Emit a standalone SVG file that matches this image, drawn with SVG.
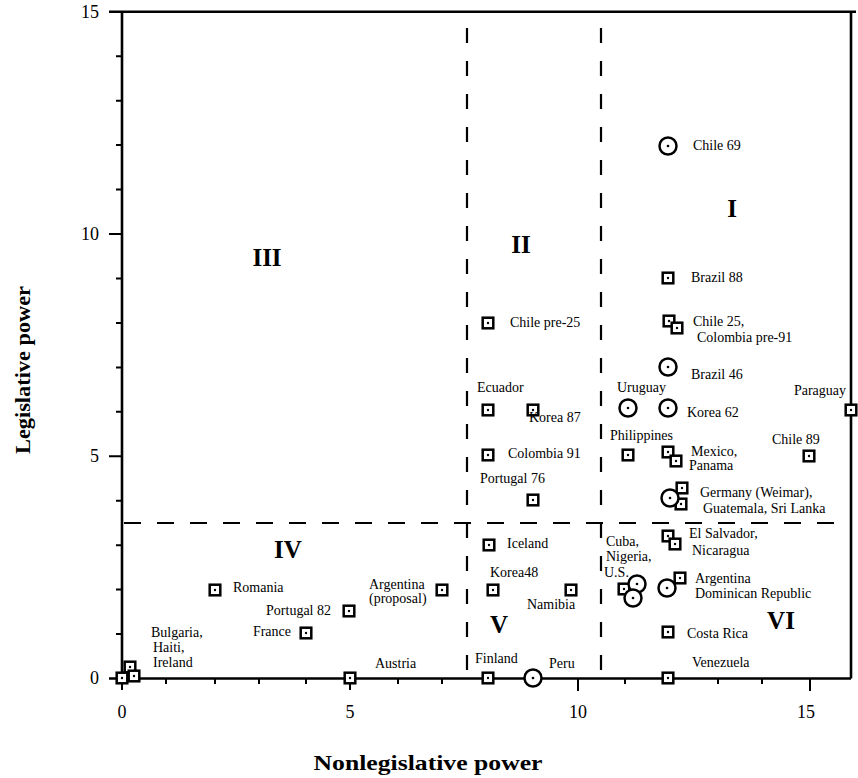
<svg xmlns="http://www.w3.org/2000/svg" xmlns:xlink="http://www.w3.org/1999/xlink" width="858" height="778" viewBox="0 0 858 778">
<style>
text{font-family:"Liberation Serif","Times New Roman",serif;fill:#000}
.lb{font-size:14px}
.tk{font-size:18px}
.rn{font-size:25px;font-weight:bold;text-anchor:middle}
.ax{font-size:22px;font-weight:bold;text-anchor:middle}
.axis{stroke:#000;stroke-width:2.6;fill:none}
.tick{stroke:#000;stroke-width:2;fill:none}
.dash{stroke:#000;stroke-width:2.2;fill:none;stroke-dasharray:15 18}
.hdash{stroke:#000;stroke-width:2.2;fill:none;stroke-dasharray:17 16}
.m{fill:#fff;stroke:#000;stroke-width:2.5}
</style>
<defs>
<g id="sq"><rect class="m" x="-5.3" y="-5.3" width="10.6" height="10.6"/><circle r="1.2" fill="#000"/></g>
<g id="ci"><circle class="m" r="8.5"/><circle r="1.3" fill="#000"/></g>
</defs>
<rect width="858" height="778" fill="#fff"/>
<g id="axes">
<path class="axis" d="M109,11.7 H856 M122,11.7 V678.5 M109,678.5 H851 M851,11.7 V678.5"/>
<path class="tick" d="M116,634 H122 M116,589.6 H122 M116,545.2 H122 M116,500.7 H122 M116,411.8 H122 M116,367.4 H122 M116,322.9 H122 M116,278.5 H122 M116,189.6 H122 M116,145.1 H122 M116,100.7 H122 M116,56.2 H122 M109,456.3 H122 M109,234 H122"/>
<path class="tick" d="M122,678 V690 M350,678 V690 M578,678 V691 M810,678 V691 M166,678 V684 M215,678 V684 M259,678 V684 M306,678 V684 M398,678 V684 M442,678 V684 M489,678 V684 M533,678 V684 M625,678 V684 M670,678 V684 M718,678 V684 M762,678 V684"/>
<text class="tk" x="99" y="18" text-anchor="end">15</text>
<text class="tk" x="99" y="240" text-anchor="end">10</text>
<text class="tk" x="99" y="462" text-anchor="end">5</text>
<text class="tk" x="99" y="684" text-anchor="end">0</text>
<text class="tk" x="122" y="718" text-anchor="middle">0</text>
<text class="tk" x="350" y="718" text-anchor="middle">5</text>
<text class="tk" x="578" y="718" text-anchor="middle">10</text>
<text class="tk" x="806" y="718" text-anchor="middle">15</text>
<text class="ax" x="428" y="770" textLength="229" lengthAdjust="spacingAndGlyphs">Nonlegislative power</text>
<text class="ax" transform="translate(30,370) rotate(-90)" textLength="168" lengthAdjust="spacingAndGlyphs">Legislative power</text>
</g>
<g id="dividers">
<path class="dash" d="M467,28 V678"/>
<path class="dash" d="M601,28 V678"/>
<path class="hdash" d="M124,523 H851"/>
</g>
<g id="regions">
<text class="rn" x="732" y="217">I</text>
<text class="rn" x="521" y="253">II</text>
<text class="rn" x="267" y="266">III</text>
<text class="rn" x="288" y="558">IV</text>
<text class="rn" x="499" y="633">V</text>
<text class="rn" x="781" y="629">VI</text>
</g>
<g id="points">
<g id="chile69"><use xlink:href="#ci" x="668" y="146"/><text class="lb" x="693" y="150">Chile 69</text></g>
<g id="brazil88"><use xlink:href="#sq" x="668" y="278"/><text class="lb" x="691" y="282">Brazil 88</text></g>
<g id="chile25"><use xlink:href="#sq" x="669" y="321"/><use xlink:href="#sq" x="677" y="328"/><text class="lb" x="693" y="326">Chile 25,</text><text class="lb" x="697" y="342">Colombia  pre-91</text></g>
<g id="brazil46"><use xlink:href="#ci" x="668" y="367"/><text class="lb" x="691" y="379">Brazil 46</text></g>
<g id="uruguay"><use xlink:href="#ci" x="628" y="408"/><text class="lb" x="617" y="392">Uruguay</text></g>
<g id="korea62"><use xlink:href="#ci" x="668" y="408"/><text class="lb" x="687" y="417">Korea 62</text></g>
<g id="paraguay"><use xlink:href="#sq" x="851" y="410"/><text class="lb" x="846" y="395" text-anchor="end">Paraguay</text></g>
<g id="philippines"><use xlink:href="#sq" x="628" y="455"/><text class="lb" x="610" y="440">Philippines</text></g>
<g id="mexico"><use xlink:href="#sq" x="668" y="452"/><use xlink:href="#sq" x="676" y="461"/><text class="lb" x="691" y="456">Mexico,</text><text class="lb" x="689" y="470">Panama</text></g>
<g id="chile89"><use xlink:href="#sq" x="809" y="456"/><text class="lb" x="772" y="444">Chile 89</text></g>
<g id="germany"><use xlink:href="#sq" x="682" y="488"/><use xlink:href="#sq" x="681" y="504"/><use xlink:href="#ci" x="670" y="498"/><text class="lb" x="700" y="497">Germany  (Weimar),</text><text class="lb" x="703" y="513">Guatemala, Sri Lanka</text></g>
<g id="elsalvador"><use xlink:href="#sq" x="668" y="536"/><use xlink:href="#sq" x="675" y="544"/><text class="lb" x="689" y="538">El Salvador,</text><text class="lb" x="692" y="555">Nicaragua</text></g>
<g id="cuba"><use xlink:href="#sq" x="624" y="589"/><use xlink:href="#ci" x="637" y="584"/><use xlink:href="#ci" x="633" y="598"/><text class="lb" x="606" y="546">Cuba,</text><text class="lb" x="606" y="561">Nigeria,</text><text class="lb" x="604" y="577">U.S.</text></g>
<g id="argentina"><use xlink:href="#sq" x="680" y="578"/><use xlink:href="#ci" x="667" y="588"/><text class="lb" x="695" y="583">Argentina</text><text class="lb" x="695" y="598">Dominican Republic</text></g>
<g id="costarica"><use xlink:href="#sq" x="668" y="632"/><text class="lb" x="687" y="638">Costa Rica</text></g>
<g id="venezuela"><use xlink:href="#sq" x="668" y="678"/><text class="lb" x="692" y="667">Venezuela</text></g>
<g id="chilepre25"><use xlink:href="#sq" x="488" y="323"/><text class="lb" x="510" y="327">Chile pre-25</text></g>
<g id="ecuador"><use xlink:href="#sq" x="488" y="410"/><text class="lb" x="477" y="392">Ecuador</text></g>
<g id="korea87"><use xlink:href="#sq" x="533" y="410"/><text class="lb" x="529" y="422">Korea 87</text></g>
<g id="colombia91"><use xlink:href="#sq" x="488" y="455"/><text class="lb" x="508" y="458">Colombia 91</text></g>
<g id="portugal76"><use xlink:href="#sq" x="533" y="500"/><text class="lb" x="480" y="483">Portugal 76</text></g>
<g id="iceland"><use xlink:href="#sq" x="489" y="545"/><text class="lb" x="507" y="548">Iceland</text></g>
<g id="korea48"><use xlink:href="#sq" x="493" y="590"/><text class="lb" x="490" y="577">Korea48</text></g>
<g id="namibia"><use xlink:href="#sq" x="571" y="590"/><text class="lb" x="527" y="609">Namibia</text></g>
<g id="finland"><use xlink:href="#sq" x="488" y="678"/><text class="lb" x="475" y="663">Finland</text></g>
<g id="peru"><use xlink:href="#ci" x="533" y="678"/><text class="lb" x="549" y="668">Peru</text></g>
<g id="romania"><use xlink:href="#sq" x="215" y="590"/><text class="lb" x="233" y="592">Romania</text></g>
<g id="portugal82"><use xlink:href="#sq" x="349" y="611"/><text class="lb" x="331" y="615" text-anchor="end">Portugal 82</text></g>
<g id="france"><use xlink:href="#sq" x="306" y="633"/><text class="lb" x="291" y="636" text-anchor="end">France</text></g>
<g id="argprop"><use xlink:href="#sq" x="442" y="590"/><text class="lb" x="369" y="589">Argentina</text><text class="lb" x="369" y="603">(proposal)</text></g>
<g id="austria"><use xlink:href="#sq" x="350" y="678"/><text class="lb" x="375" y="668">Austria</text></g>
<g id="bulgaria"><use xlink:href="#sq" x="122" y="678"/><use xlink:href="#sq" x="130" y="667"/><use xlink:href="#sq" x="134" y="676"/><text class="lb" x="151" y="637">Bulgaria,</text><text class="lb" x="153" y="652">Haiti,</text><text class="lb" x="153" y="667">Ireland</text></g>
</g>
</svg>
